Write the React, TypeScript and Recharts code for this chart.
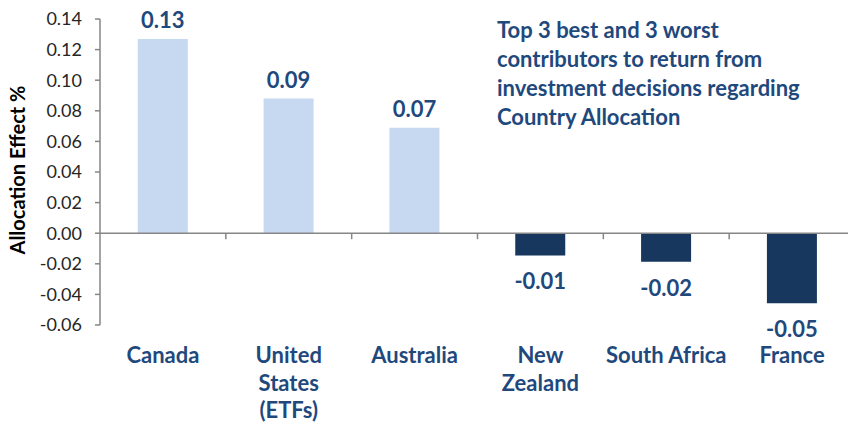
import { BarChart, Bar, XAxis, YAxis, Cell, LabelList, ReferenceLine } from "recharts";

const countries = ["Canada", "United States (ETFs)", "Australia", "New Zealand", "South Africa", "France"];
const tickLines = [["Canada"], ["United", "States", "(ETFs)"], ["Australia"], ["New", "Zealand"], ["South Africa"], ["France"]];
const allocationEffect = [0.127, 0.088, 0.069, -0.0145, -0.0186, -0.0458];
const yTicks = [-0.06, -0.04, -0.02, 0, 0.02, 0.04, 0.06, 0.08, 0.1, 0.12, 0.14];
const titleLines = [
    "Top 3 best and 3 worst",
    "contributors to return from",
    "investment decisions regarding",
    "Country Allocation",
];

const data = countries.map((name, i) => ({ name, value: allocationEffect[i] }));

const FONT = "Lato, 'Open Sans', sans-serif";
const NAVY = "#1F497D";
const LIGHT = "#C6D9F1";
const DARK = "#17375E";
const AXIS = "#868686";

function CategoryTick({ x, y, index }: any) {
    const lines = tickLines[index] || [];
    return (
        <text x={x} y={y} textAnchor="middle" fill={NAVY} fontFamily={FONT} fontWeight={700} fontSize={22}>
            {lines.map((l, i) => (
                <tspan key={i} x={x} y={y + 38 + i * 27.5}>
                    {l}
                </tspan>
            ))}
        </text>
    );
}

function ZeroAxis({ x1, y1, x2 }: any) {
    const n = data.length;
    const step = (x2 - x1) / n;
    return (
        <g>
            <line x1={x1} y1={y1} x2={x2} y2={y1} stroke={AXIS} strokeWidth={1.5} />
            {data.map((_, i) => (
                <line key={i} x1={x1 + (i + 1) * step} y1={y1} x2={x1 + (i + 1) * step} y2={y1 + 6} stroke={AXIS} strokeWidth={1.5} />
            ))}
        </g>
    );
}

function ValueLabel({ x, y, width, height, value }: any) {
    const top = Math.min(y, y + height);
    const bottom = Math.max(y, y + height);
    const cx = x + width / 2;
    const ty = value >= 0 ? top - 11 : bottom + 34;
    return (
        <text x={cx} y={ty} textAnchor="middle" fill={NAVY} fontFamily={FONT} fontWeight={700} fontSize={22}>
            {value.toFixed(2)}
        </text>
    );
}

export default function App() {
    return (
        <div style={{ position: "relative", width: 856, height: 433, margin: -8, background: "#fff" }}>
            <BarChart
                width={856}
                height={433}
                data={data}
                margin={{ top: 19, right: 1, bottom: 0, left: 0 }}
                barCategoryGap="30%"
            >
                <XAxis
                    dataKey="name"
                    height={108}
                    axisLine={false}
                    tickLine={false}
                    tickSize={0}
                    tickMargin={0}
                    interval={0}
                    tick={<CategoryTick />}
                />
                <YAxis
                    width={100}
                    domain={[-0.06, 0.14]}
                    ticks={yTicks}
                    interval={0}
                    tickFormatter={(v: number) => v.toFixed(2)}
                    axisLine={{ stroke: AXIS, strokeWidth: 1.5 }}
                    tickLine={{ stroke: AXIS, strokeWidth: 1.5 }}
                    tickSize={5}
                    tickMargin={13}
                    tick={{ fill: "#262626", fontFamily: FONT, fontSize: 18 }}
                />
                <ReferenceLine y={0} shape={<ZeroAxis />} />
                <Bar dataKey="value" isAnimationActive={false}>
                    {data.map((d, i) => (
                        <Cell key={i} fill={d.value >= 0 ? LIGHT : DARK} />
                    ))}
                    <LabelList dataKey="value" content={<ValueLabel />} />
                </Bar>
            </BarChart>
            <svg width={40} height={433} style={{ position: "absolute", left: 0, top: 0 }}>
                <text
                    x={17}
                    y={170}
                    transform="rotate(-90, 17, 170)"
                    textAnchor="middle"
                    dominantBaseline="central"
                    fill="#000"
                    fontFamily={FONT}
                    fontWeight={700}
                    fontSize={20}
                >
                    Allocation Effect %
                </text>
            </svg>
            <div
                style={{
                    position: "absolute",
                    left: 497,
                    top: 15,
                    fontFamily: FONT,
                    fontWeight: 700,
                    fontSize: 22,
                    lineHeight: "29px",
                    color: NAVY,
                    whiteSpace: "nowrap",
                }}
            >
                {titleLines.map((l, i) => (
                    <div key={i}>{l}</div>
                ))}
            </div>
        </div>
    );
}
